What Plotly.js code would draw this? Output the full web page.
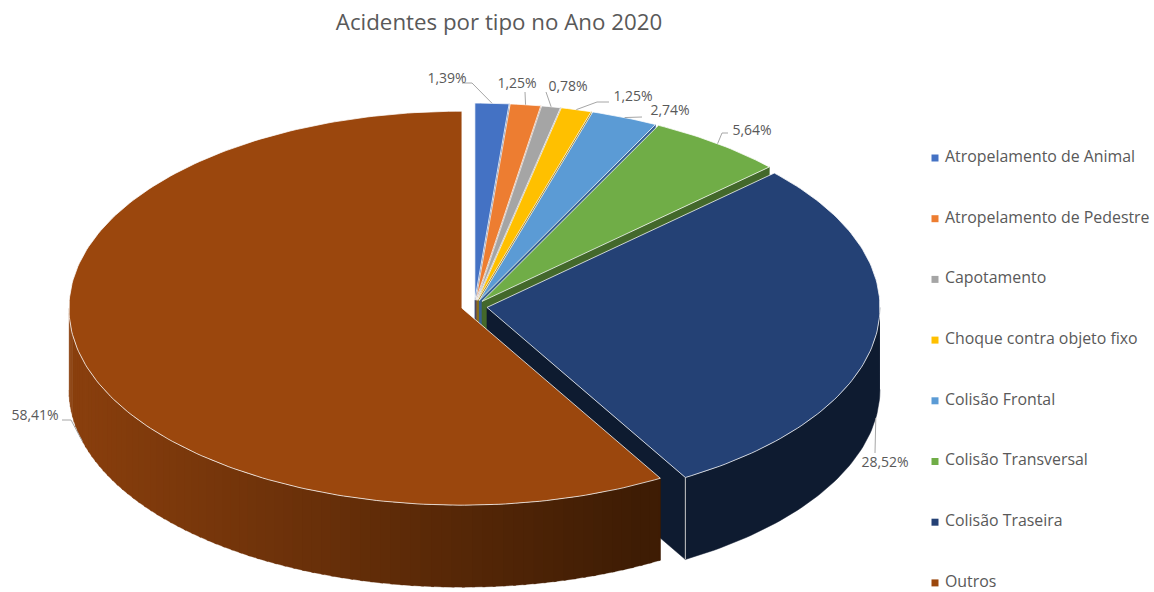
<!DOCTYPE html>
<html>
<head>
<meta charset="utf-8">
<script src="https://cdn.plot.ly/plotly-3.0.1.min.js"></script>
<style>html,body{margin:0;padding:0;background:#fff}#chart{width:1154px;height:592px}</style>
</head>
<body>
<div id="chart"></div>
<script>
// Accident types and their share of the year's total
const categories = ['Atropelamento de Animal','Atropelamento de Pedestre','Capotamento','Choque contra objeto fixo','Colisão Frontal','Colisão Transversal','Colisão Traseira','Outros'];
const shares = [1.39,1.25,0.78,1.25,2.74,5.64,28.52,58.41];
const topColors = ['#4472C4','#ED7D31','#A5A5A5','#FFC000','#5B9BD5','#70AD47','#244175','#9B470D'];
const sideColors = ['#2A4A80','#8E4A1C','#636363','#997300','#376092','#43682B','#0E1B30','#3E1C04'];

// Projection of the tilted disc on the page
const CX = 474.3, CY = 306.5, RX = 393, RY = 197, DEPTH = 82, EXPLODE = 12.8;
const TEXT = '#595959', LEADER = '#a6a6a6';

// Leader elbows and label centres, one per slice, in page units
const labelCentres = [[447,79],[517,84],[568,87],[633,97],[670,111],[752,131],[885,463],[35,416]];
const leaderElbows = [[[462,83],[472,83]],[[525,92]],[[546,92]],[[609,102],[597,102]],[[642,117]],[[728,133],[722,133]],[[875,453]],[[62,420],[71,420]]];

// Key column: swatch and text positions, first row and row spacing
const KEY_SWATCH_X = 935, KEY_TEXT_X = 945, KEY_TOP = 158, KEY_STEP = 60.7;

const rad = d => d * Math.PI / 180;
const total = shares.reduce((a, b) => a + b, 0);
const traces = [];

function arc(c, from, to, drop) {
  const xs = [], ys = [];
  const steps = Math.max(2, Math.ceil(Math.abs(to - from)));
  for (let k = 0; k <= steps; k++) {
    const t = rad(from + (to - from) * k / steps);
    xs.push(c.x + RX * Math.sin(t));
    ys.push(c.y - RY * Math.cos(t) + drop);
  }
  return {xs, ys};
}

function poly(xs, ys, fill, line, width) {
  traces.push({type:'scatter', mode:'lines', x:xs, y:ys, fill:'toself', fillcolor:fill,
    line:{color:line, width:width}, hoverinfo:'skip', showlegend:false});
}

function mixHex(a, b, f) {
  const p = h => [1,3,5].map(i => parseInt(h.substr(i,2),16));
  const A = p(a), B = p(b);
  return 'rgb(' + A.map((v,i) => Math.round(v + (B[i]-v)*f)).join(',') + ')';
}

let cursor = 0;
const slices = shares.map((s, i) => {
  const from = cursor / total * 360;
  cursor += s;
  const to = cursor / total * 360;
  const mid = (from + to) / 2;
  const c = {x: CX + EXPLODE * Math.sin(rad(mid)), y: CY - EXPLODE * RY / RX * Math.cos(rad(mid))};
  return {from, to, mid, c, i};
});

// Back slices first, so nearer ones paint over what they hide
slices.forEach(({from, to, c, i}) => {
  const endX = c.x + RX * Math.sin(rad(to)), endY = c.y - RY * Math.cos(rad(to));
  if (to < 300) {
    poly([c.x, endX, endX, c.x, c.x], [c.y, endY, endY + DEPTH, c.y + DEPTH, c.y], sideColors[i], sideColors[i], 0.5);
  }
  const wFrom = Math.max(from, 90), wTo = Math.min(to, 270);
  if (wTo > wFrom) {
    if (i === slices.length - 1) {
      // Rim of the largest slice darkens from left to right
      const band = 1.5;
      const leftX = c.x - RX, rightX = c.x + RX * Math.sin(rad(wFrom)) - 20;
      for (let a = wTo; a > wFrom; a -= band) {
        const b = Math.max(a - band - 0.4, wFrom);
        const top = arc(c, a, b, 0), bottom = arc(c, b, a, DEPTH);
        const mx = c.x + RX * Math.sin(rad((a + b) / 2));
        const f = Math.min(1, Math.max(0, (mx - leftX) / (rightX - leftX)));
        const col = mixHex('#8A3F0D', sideColors[i], f);
        poly(top.xs.concat(bottom.xs), top.ys.concat(bottom.ys), col, col, 0.3);
      }
    } else {
      const top = arc(c, wFrom, wTo, 0), bottom = arc(c, wTo, wFrom, DEPTH);
      poly(top.xs.concat(bottom.xs), top.ys.concat(bottom.ys), sideColors[i], sideColors[i], 0.5);
    }
    // Seam where the cut face meets the rim
    if (to < 300) {
      traces.push({type:'scatter', mode:'lines', x:[endX,endX], y:[endY,endY+DEPTH],
        line:{color:'#c9c9c9', width:1}, hoverinfo:'skip', showlegend:false});
    }
  }
  const rim = arc(c, from, to, 0);
  poly([c.x].concat(rim.xs, [c.x]), [c.y].concat(rim.ys, [c.y]), topColors[i], 'rgba(255,255,255,0.75)', 1);
});

// Leader lines and value labels
const labelXs = [], labelYs = [], labelTexts = [];
slices.forEach(({mid, c, i}) => {
  const drop = Math.cos(rad(mid)) < 0 ? DEPTH : 0;
  const ax = c.x + RX * Math.sin(rad(mid)), ay = c.y - RY * Math.cos(rad(mid)) + drop;
  traces.push({type:'scatter', mode:'lines',
    x: leaderElbows[i].map(p => p[0]).concat([ax]),
    y: leaderElbows[i].map(p => p[1]).concat([ay]),
    line:{color:LEADER, width:1}, hoverinfo:'skip', showlegend:false});
  labelXs.push(labelCentres[i][0]);
  labelYs.push(labelCentres[i][1]);
  labelTexts.push(shares[i].toFixed(2).replace('.', ',') + '%');
});
traces.push({type:'scatter', mode:'text', x:labelXs, y:labelYs, text:labelTexts,
  textposition:'middle center', textfont:{family:'Open Sans, sans-serif', size:14, color:TEXT},
  hoverinfo:'skip', showlegend:false});

// Key column beside the disc
categories.forEach((name, i) => {
  const y = KEY_TOP + KEY_STEP * i;
  traces.push({type:'scatter', mode:'markers', x:[KEY_SWATCH_X], y:[y], name:name,
    marker:{symbol:'square', size:7, color:topColors[i]}, hoverinfo:'skip', showlegend:false});
  traces.push({type:'scatter', mode:'text', x:[KEY_TEXT_X], y:[y], text:[name], name:name,
    textposition:'middle right', textfont:{family:'Open Sans, sans-serif', size:15.9, color:TEXT},
    hoverinfo:'skip', showlegend:false, cliponaxis:false});
});

const layout = {
  width:1154, height:592,
  margin:{l:0, r:0, t:0, b:0, autoexpand:false},
  paper_bgcolor:'#fff', plot_bgcolor:'#fff',
  xaxis:{range:[0,1154], visible:false, fixedrange:true},
  yaxis:{range:[592,0], visible:false, fixedrange:true},
  title:{text:'Acidentes por tipo no Ano 2020', x:499/1154, xref:'paper', xanchor:'center',
         y:1-22/592, yref:'paper', yanchor:'middle',
         font:{family:'Open Sans, sans-serif', size:22.3, color:TEXT}},
  showlegend:false
};
Plotly.newPlot('chart', traces, layout, {displayModeBar:false, staticPlot:true});
</script>
</body>
</html>
